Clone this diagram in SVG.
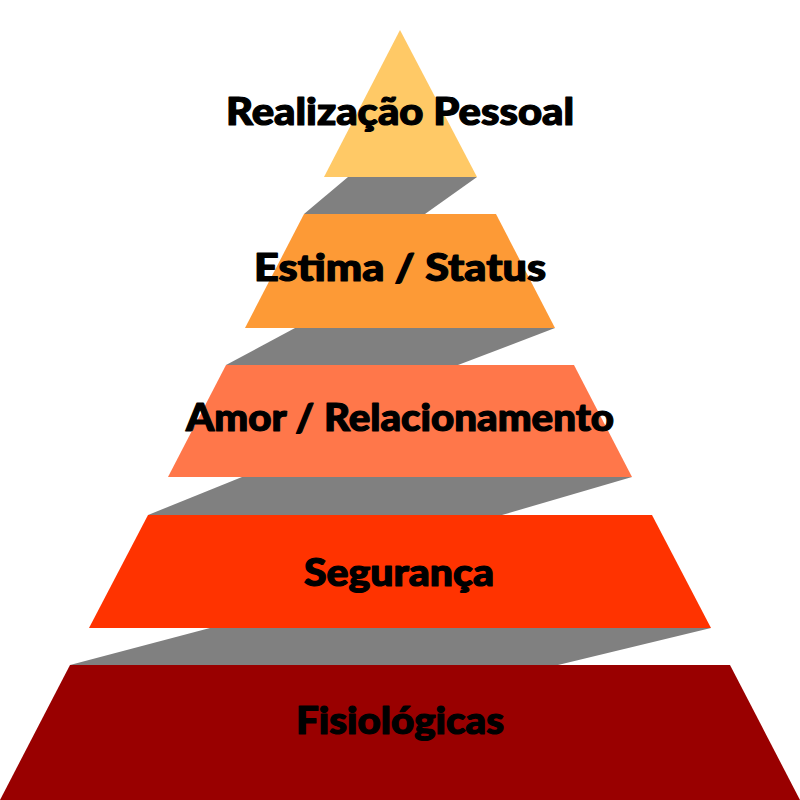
<svg xmlns="http://www.w3.org/2000/svg" width="800" height="800" viewBox="0 0 800 800">
<style>
.lbl{font-family:Lato,"DejaVu Sans",sans-serif;font-weight:900;font-size:37px;fill:#000;stroke:#000;stroke-width:1.2;stroke-linejoin:round;text-anchor:middle}
.gap{fill:#808080}
</style>
<rect width="800" height="800" fill="#fff"/>
<g id="connectors">
<polygon class="gap" points="348,177 477,177 425,214 304,214"/>
<polygon class="gap" points="295,328 555,328 458,365 226,365"/>
<polygon class="gap" points="242,477 632,477 502,515 148,515"/>
<polygon class="gap" points="210,628 711,628 558,665 70,665"/>
</g>
<g id="realizacao">
<polygon points="400,30 477,177 324,177" fill="#FFC966"/>
<text class="lbl" x="400" y="125" textLength="348" lengthAdjust="spacingAndGlyphs">Realização Pessoal</text>
</g>
<g id="estima">
<polygon points="304,214 496,214 555,328 245,328" fill="#FD9A36"/>
<text class="lbl" x="400" y="281" textLength="292" lengthAdjust="spacingAndGlyphs">Estima / Status</text>
</g>
<g id="amor">
<polygon points="226,365 574,365 632,477 168,477" fill="#FF774A"/>
<text class="lbl" x="400" y="431" textLength="428" lengthAdjust="spacingAndGlyphs">Amor / Relacionamento</text>
</g>
<g id="seguranca">
<polygon points="148,515 652,515 711,628 89,628" fill="#FF3300"/>
<text class="lbl" x="399" y="586" textLength="190" lengthAdjust="spacingAndGlyphs">Segurança</text>
</g>
<g id="fisiologicas">
<polygon points="70,665 730,665 800,800 0,800" fill="#990000"/>
<text class="lbl" x="400" y="734" textLength="208" lengthAdjust="spacingAndGlyphs">Fisiológicas</text>
</g>
</svg>
